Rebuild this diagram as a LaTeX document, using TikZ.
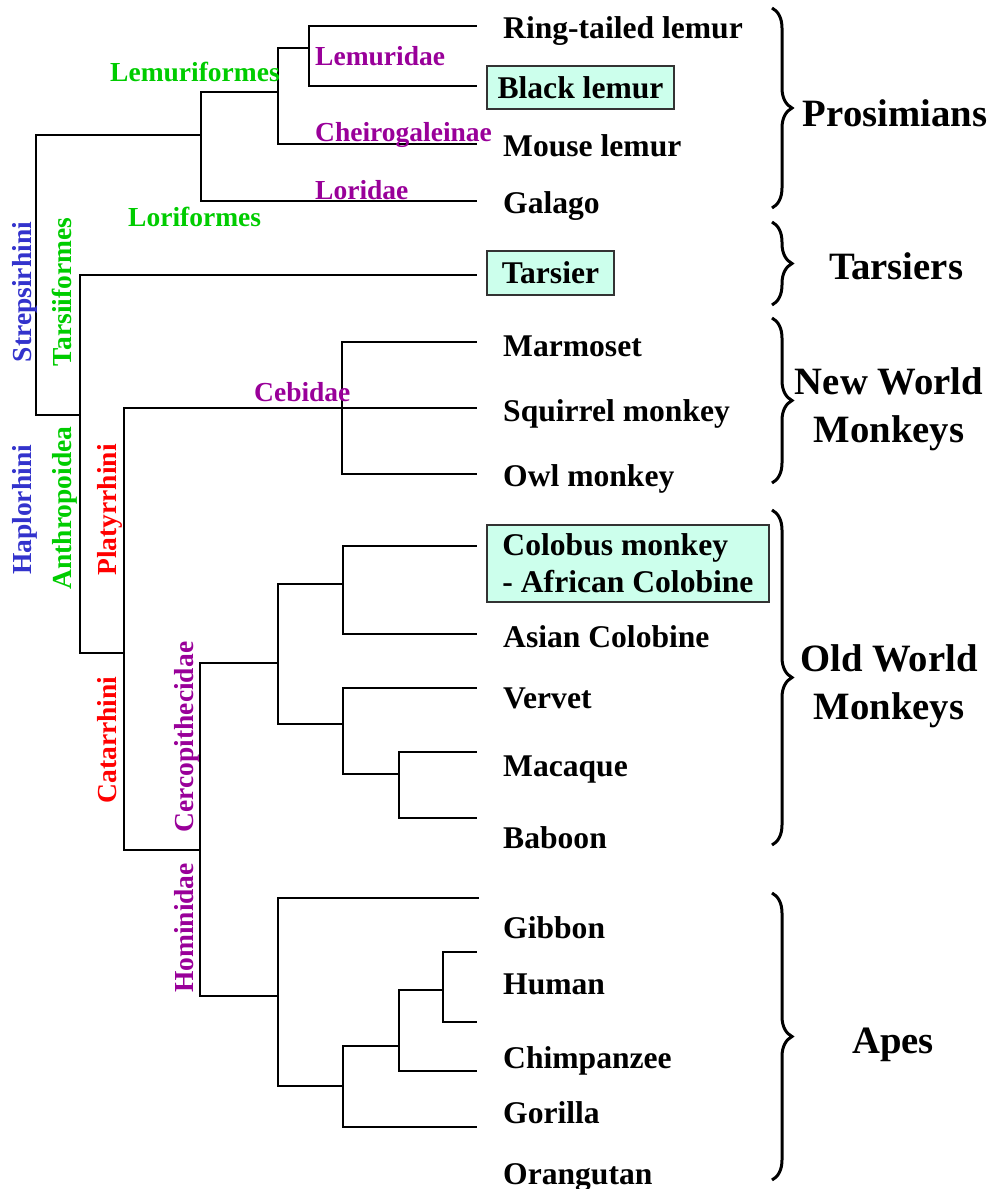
\documentclass[tikz,border=0pt]{standalone}
\usepackage{fontspec}
\setmainfont{Liberation Serif}
\usetikzlibrary{decorations.pathreplacing}

\definecolor{cladeblue}{RGB}{51,51,204}
\definecolor{cladegreen}{RGB}{0,204,0}
\definecolor{cladepurple}{RGB}{153,0,153}
\definecolor{cladered}{RGB}{255,0,0}
\definecolor{boxaqua}{RGB}{204,255,236}

\begin{document}
\begin{tikzpicture}[x=1pt, y=-1pt,
    branch/.style={line width=2pt, black},
    leaf/.style={anchor=base west, inner sep=0pt, font={\bfseries\fontsize{31.6}{37}\selectfont}},
    boxed/.style={draw=black!80, line width=1.5pt, fill=boxaqua, inner sep=0pt, minimum height=43pt, align=left, font={\bfseries\fontsize{31.6}{37}\selectfont}},
    clade/.style={anchor=base west, inner sep=0pt, text=#1, font={\bfseries\fontsize{27.5}{33}\selectfont}},
    vclade/.style={clade=#1, anchor=base, rotate=90},
    group/.style={align=center, inner sep=0pt, font={\bfseries\fontsize{38.7}{48}\selectfont}},
    grpbrace/.style={decorate, decoration={brace, amplitude=20pt}, line width=3pt}]

\useasboundingbox (0,0) rectangle (993,1189);

% inner nodes of the tree
\coordinate (root) at (36,275);
\coordinate (strep) at (201,135);
\coordinate (lemurif) at (278,92);
\coordinate (lemurid) at (309,48);
\coordinate (haplo) at (80,415);
\coordinate (anthro) at (124,653);
\coordinate (cebid) at (342,408);
\coordinate (catar) at (200,850);
\coordinate (cerco) at (278,663);
\coordinate (colob) at (343,584);
\coordinate (cerc2) at (343,724);
\coordinate (papio) at (399,774);
\coordinate (homin) at (278,996);
\coordinate (great) at (343,1086);
\coordinate (hominae) at (399,1046);
\coordinate (homo) at (443,990);

% leaf tips
\coordinate (tRing) at (477,26);
\coordinate (tBlack) at (477,86);
\coordinate (tMouse) at (477,144);
\coordinate (tGalago) at (477,201);
\coordinate (tTarsier) at (477,275);
\coordinate (tMarmoset) at (477,342);
\coordinate (tSquirrel) at (477,408);
\coordinate (tOwl) at (477,474);
\coordinate (tColobus) at (477,546);
\coordinate (tAsian) at (477,634);
\coordinate (tVervet) at (477,688);
\coordinate (tMacaque) at (477,752);
\coordinate (tBaboon) at (477,818);
\coordinate (tGibbon) at (479,898);
\coordinate (tHuman) at (477,952);
\coordinate (tChimp) at (477,1022);
\coordinate (tGorilla) at (477,1071);
\coordinate (tOrang) at (477,1127);

\foreach \p/\c in {root/strep, root/haplo, strep/lemurif, strep/tGalago,
    lemurif/lemurid, lemurif/tMouse, lemurid/tRing, lemurid/tBlack,
    haplo/tTarsier, haplo/anthro, anthro/cebid, anthro/catar,
    cebid/tMarmoset, cebid/tSquirrel, cebid/tOwl, catar/cerco, catar/homin,
    cerco/colob, cerco/cerc2, colob/tColobus, colob/tAsian,
    cerc2/tVervet, cerc2/papio, papio/tMacaque, papio/tBaboon,
    homin/tGibbon, homin/great, great/hominae, great/tOrang,
    hominae/homo, hominae/tGorilla, homo/tHuman, homo/tChimp}
  \draw[branch] (\p) |- (\c);

\node[leaf] (ring) at (503,38) {Ring-tailed lemur};
\node[boxed, minimum width=187pt] (black) at (580.5,87.5) {Black lemur};
\node[leaf] (mouse) at (503,156) {Mouse lemur};
\node[leaf] (galago) at (503,213) {Galago};
\node[boxed, minimum width=127pt, minimum height=44pt] (tarsier) at (550.5,273) {Tarsier};
\node[leaf] (marmoset) at (503,356) {Marmoset};
\node[leaf] (squirrel) at (503,421) {Squirrel monkey};
\node[leaf] (owl) at (503,486) {Owl monkey};
\node[boxed, minimum width=282pt, minimum height=77pt] (colobus) at (628,563.5) {Colobus monkey\\- African Colobine};
\node[leaf] (asian) at (503,647) {Asian Colobine};
\node[leaf] (vervet) at (503,708) {Vervet};
\node[leaf] (macaque) at (503,776) {Macaque};
\node[leaf] (baboon) at (503,848) {Baboon};
\node[leaf] (gibbon) at (503,938) {Gibbon};
\node[leaf] (human) at (503,994) {Human};
\node[leaf] (chimp) at (503,1068) {Chimpanzee};
\node[leaf] (gorilla) at (503,1123) {Gorilla};
\node[leaf] (orang) at (503,1184) {Orangutan};

\node[clade=cladegreen] (lemuriformes) at (110,81) {Lemuriformes};
\node[clade=cladepurple] (lemuridae) at (315,65) {Lemuridae};
\node[clade=cladepurple] (cheirogaleinae) at (315,141) {Cheirogaleinae};
\node[clade=cladepurple] (loridae) at (315,199) {Loridae};
\node[clade=cladegreen] (loriformes) at (128,226) {Loriformes};
\node[clade=cladepurple] (cebidae) at (254,401) {Cebidae};

\node[vclade=cladeblue] (strepsirhini) at (31,292) {Strepsirhini};
\node[vclade=cladegreen] (tarsiiformes) at (71,292) {Tarsiiformes};
\node[vclade=cladeblue] (haplorhini) at (31,510) {Haplorhini};
\node[vclade=cladegreen] (anthropoidea) at (71,508) {Anthropoidea};
\node[vclade=cladered] (platyrrhini) at (116,510) {Platyrrhini};
\node[vclade=cladered] (catarrhini) at (116,740) {Catarrhini};
\node[vclade=cladepurple] (cercopithecidae) at (193,737) {Cercopithecidae};
\node[vclade=cladepurple] (hominidae) at (193,928) {Hominidae};

% groups on the right
\draw[grpbrace] (772,8) -- (772,208);
\draw[grpbrace] (772,222) -- (772,305);
\draw[grpbrace] (772,318) -- (772,483);
\draw[grpbrace] (772,510) -- (772,845);
\draw[grpbrace] (772,893) -- (772,1180);

\node[group, anchor=base] (prosimians) at (895,126) {Prosimians};
\node[group, anchor=base] (tarsiers) at (896,279) {Tarsiers};
\node[group] (newworld) at (889,409) {New World\\Monkeys};
\node[group] (oldworld) at (889,686) {Old World\\Monkeys};
\node[group, anchor=base] (apes) at (893,1053) {Apes};
\end{tikzpicture}
\end{document}
